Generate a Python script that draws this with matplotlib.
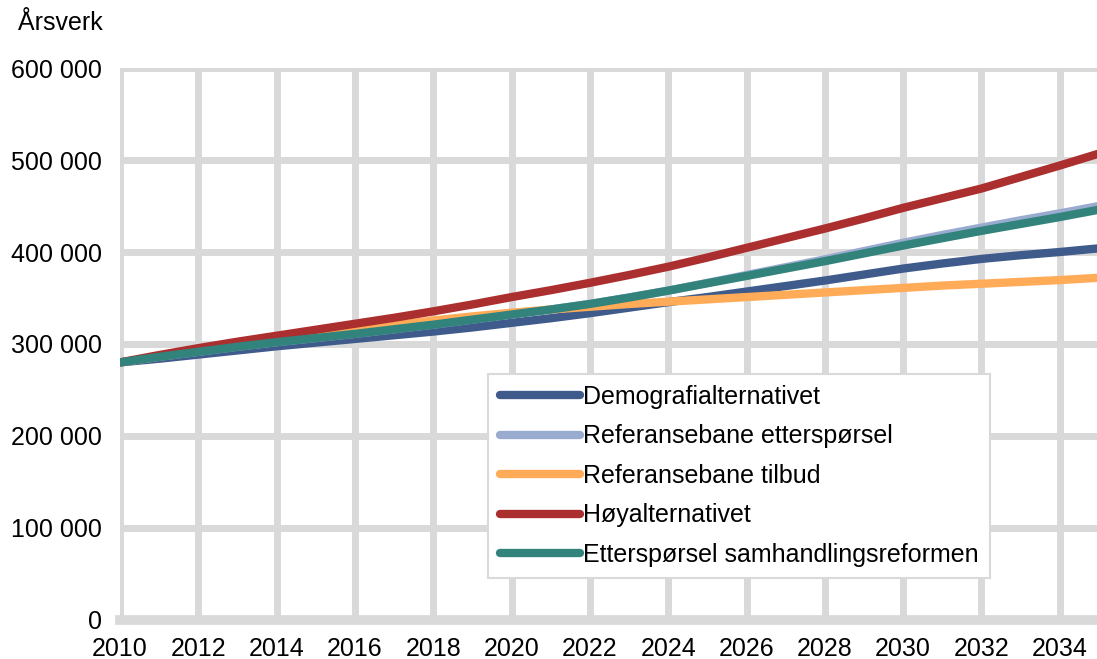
import matplotlib.pyplot as plt
from matplotlib.ticker import FuncFormatter

plt.rcParams['font.family'] = ['Liberation Sans', 'DejaVu Sans']

years = list(range(2010, 2036))

# values in thousand årsverk
demografi = [280, 284, 288.5, 293, 297.5, 301.5, 305.5, 309.5, 313.5, 318, 323, 328, 333.5,
             339.5, 345.5, 351, 357, 363, 369, 375.5, 382, 387.5, 392.5, 396.5, 400, 404]
ref_ettersporsel = [280, 286, 291.5, 297, 302, 306.5, 311, 316, 321, 326.5, 332, 337.5, 343.5,
                    350.5, 358, 366.5, 375, 383.5, 392, 401, 410, 418.5, 426.5, 434.5, 442, 450]
ref_tilbud = [280, 286.5, 292.5, 298.5, 304, 309.5, 315, 320.5, 325.5, 330, 334, 337.5, 340.5,
              343.5, 346, 348.5, 351, 353.5, 356, 358.5, 361, 363.5, 365.5, 367.5, 369.5, 372]
hoy = [280, 288, 295.5, 302.5, 309, 315.5, 322, 328.5, 335.5, 343, 351, 358.5, 366.5,
       375, 384, 394, 404.5, 415, 425.5, 436.5, 448, 458.5, 469, 481.5, 494, 507]
samhandling = [280, 286, 291.5, 297, 302, 306.5, 311, 316, 321, 326.5, 332, 337.5, 343.5,
               350.5, 358, 366, 374, 382, 390, 398.5, 407, 415, 423, 430.5, 438, 446]

series = [
    ("Demografialternativet", demografi, "#3f5b8c"),
    ("Referansebane etterspørsel", ref_ettersporsel, "#9aabd0"),
    ("Referansebane tilbud", ref_tilbud, "#ffab57"),
    ("Høyalternativet", hoy, "#ac2f2f"),
    ("Etterspørsel samhandlingsreformen", samhandling, "#33837d"),
]

fig = plt.figure(figsize=(10.97, 6.59), dpi=100)
ax = fig.add_axes([0.1094, 0.0592, 0.8906, 0.8376])

for label, values, color in series:
    ax.plot(years, [v * 1000 for v in values], color=color, lw=6,
            solid_capstyle='round', solid_joinstyle='round', label=label)

grid_color = "#d9d9d9"
ax.set_xlim(2010, 2034.95)
ax.set_ylim(0, 600000)
ax.set_xticks(range(2010, 2035, 2))
ax.set_yticks(range(0, 600001, 100000))
ax.yaxis.set_major_formatter(FuncFormatter(lambda v, p: f"{int(v):,}".replace(",", " ")))
ax.grid(True, color=grid_color, lw=5)
ax.set_axisbelow(True)
for side in ["top", "right", "left"]:
    ax.spines[side].set_visible(False)
ax.spines["bottom"].set_color(grid_color)
ax.spines["bottom"].set_linewidth(7)
ax.tick_params(length=0, labelsize=18, colors="#000000")
ax.tick_params(axis="y", pad=13)
ax.tick_params(axis="x", pad=12)

fig.text(0.016, 0.965, "Årsverk", fontsize=18, va="center", ha="left")

leg = ax.legend(loc="lower left", bbox_to_anchor=(0.377, 0.076), borderaxespad=0,
                fontsize=18, frameon=True, fancybox=False, edgecolor=grid_color,
                framealpha=1, handlelength=3.2, handletextpad=0.15, labelspacing=0.62,
                borderpad=0.45)
leg.get_frame().set_linewidth(1.5)

fig.savefig("out.png", dpi=100)
